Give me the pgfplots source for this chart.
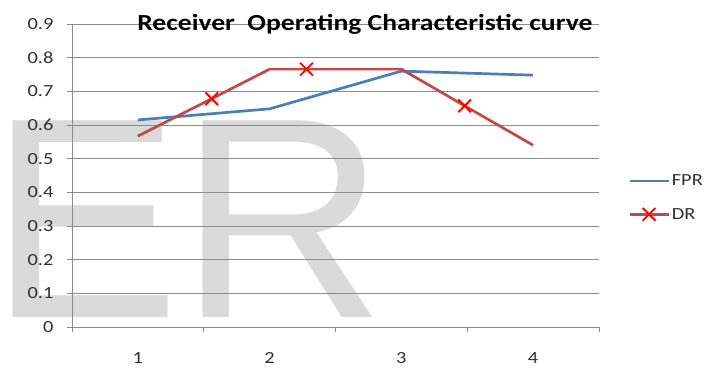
\documentclass[border=0pt]{standalone}
\usepackage{fontspec}
\setmainfont{Carlito}[FakeStretch=1.2]
\newfontfamily\wmfont{Liberation Sans}
\usepackage{pgfplots}
\pgfplotsset{compat=1.18}
\definecolor{fprblue}{HTML}{4A7EBB}
\definecolor{drred}{HTML}{BE4B48}
\definecolor{gridgray}{HTML}{8C8C8C}
\definecolor{wmgray}{HTML}{DADADA}
\definecolor{lbl}{HTML}{303030}
\pgfplotsset{
  fprlegend/.style={legend image code/.code={\draw[##1] (0bp,0bp) -- (39bp,0bp);}},
  drlegend/.style={legend image code/.code={\draw[##1, mark indices={2}] plot coordinates {(0bp,0bp)(19.5bp,0bp)(39bp,0bp)};}},
}
\begin{document}
\begin{tikzpicture}
\useasboundingbox (0bp,0bp) rectangle (715bp,369bp);
\node[anchor=base west, inner sep=0pt, text=wmgray] at (-11bp,51bp) {\wmfont\fontsize{286bp}{290bp}\selectfont ER};
\begin{axis}[
  at={(72bp,42bp)}, anchor=south west,
  scale only axis, width=527bp, height=303bp,
  xmin=0.5, xmax=4.5, ymin=0, ymax=0.9,
  axis lines*=left,
  axis line style={gridgray, line width=1bp, -},
  xtick={0.5,1.5,2.5,3.5,4.5}, xticklabels={},
  extra x ticks={1,2,3,4}, extra x tick labels={1,2,3,4},
  extra x tick style={major tick length=0pt, xticklabel style={yshift=-22bp}},
  ytick={0,0.1,0.2,0.3,0.4,0.5,0.6,0.7,0.8,0.9},
  yticklabels={0,0.1,0.2,0.3,0.4,0.5,0.6,0.7,0.8,0.9},
  yticklabel style={xshift=-10bp},
  ymajorgrids, major grid style={gridgray, line width=1bp},
  tick align=outside, major tick length=5bp,
  tick style={gridgray, line width=1bp},
  ticklabel style={font=\fontsize{17bp}{20bp}\selectfont, text=lbl},
  /pgf/number format/assume math mode=true,
  legend style={at={(rel axis cs:1.055,0.427)}, anchor=west, draw=none, fill=none,
    inner sep=0pt, font=\fontsize{17bp}{20bp}\selectfont, text=lbl, row sep=17bp,
    cells={anchor=west}},
]
\addplot[fprblue, line width=2.7bp, line join=round, fprlegend]
  coordinates {(1,0.615)(2,0.648)(3,0.760)(4,0.748)};
\addlegendentry{FPR}
\addplot[drred, line width=2.7bp, line join=round, mark=x, mark indices={2,4,6},
  mark size=9bp, mark options={red, line width=1.9bp}, drlegend]
  coordinates {(1,0.567)(1.56,0.678)(2,0.766)(2.28,0.766)(3,0.766)(3.48,0.657)(4,0.540)};
\addlegendentry{DR}
\end{axis}
\node[anchor=base, font=\bfseries\fontsize{23bp}{26bp}\selectfont] at (365bp,338bp) {Receiver\ \ Operating Characteristic curve};
\end{tikzpicture}
\end{document}
